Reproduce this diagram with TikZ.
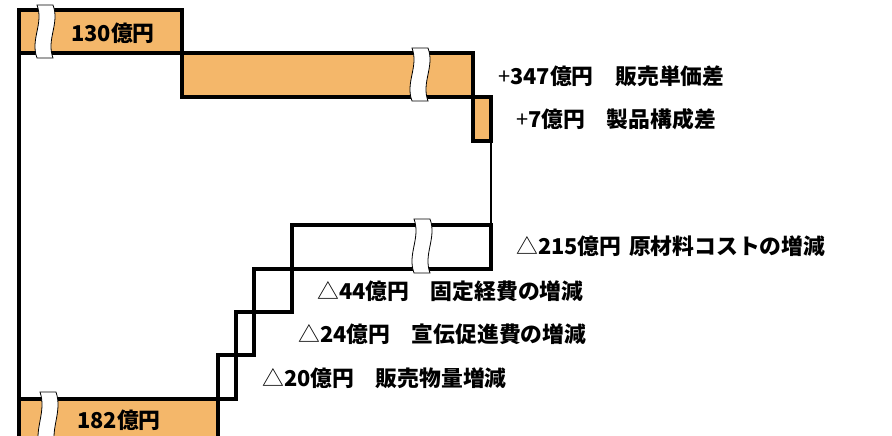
\documentclass[tikz,border=0pt]{standalone}
\usepackage{fontspec}
\setmainfont{Noto Sans CJK JP}
\usetikzlibrary{positioning}
\definecolor{barorange}{RGB}{244,183,106}

% wavy break mark: centre x, top y, bottom y
\newcommand{\breakmark}[3]{%
  \filldraw[fill=white, draw=black, line width=0.8pt]
    (#1-8,#2) .. controls (#1-1,#2+0.35*#3-0.35*#2) and (#1-15,#3-0.35*#3+0.35*#2) .. (#1-8,#3)
    -- (#1+8,#3) .. controls (#1+1,#3-0.35*#3+0.35*#2) and (#1+15,#2+0.35*#3-0.35*#2) .. (#1+8,#2) -- cycle;}

\begin{document}
\begin{tikzpicture}[x=1pt, y=-1pt,
  bar/.style={draw=black, line width=3.5pt, fill=barorange},
  drop/.style={draw=black, line width=3.5pt, fill=white},
  lbl/.style={anchor=west, inner sep=0pt, font=\fontsize{21.8}{26}\selectfont\bfseries}]
\useasboundingbox (0,0) rectangle (892,436);

% increases
\draw[bar] (19,10) rectangle (182,53);
\draw[bar] (182,53) rectangle (473,97);
\draw[bar] (473,97) rectangle (491,141);
\draw[line width=1.5pt] (491,141) -- (491,225);

% decreases
\draw[drop] (292,225) rectangle (491,269);
\draw[drop] (254,269) rectangle (292,312);
\draw[drop] (236,312) rectangle (254,355);
\draw[drop] (218,355) rectangle (236,399);

% result
\fill[barorange] (19,399) rectangle (218,445);
\draw[line width=3.5pt] (218,445) -- (218,399) -- (19,399);
\draw[line width=3.5pt] (19,10) -- (19,445);

\breakmark{45}{5}{58}
\breakmark{420}{48}{101}
\breakmark{422}{219}{273}
\breakmark{48}{392}{450}

\node[lbl] (start) at (71,33) {130億円};
\node[lbl] (final) at (77,420) {182億円};
\node[lbl] (price) at (498,76) {\textmd{+}347億円　販売単価差};
\node[lbl] (mix) at (516,119) {\textmd{+}7億円　製品構成差};
\node[lbl] (material) at (516,246) {\textmd{△}215億円\hspace{0.35em}原材料コストの増減};
\node[lbl] (fixed) at (317,291) {\textmd{△}44億円　固定経費の増減};
\node[lbl] (promo) at (298,334) {\textmd{△}24億円　宣伝促進費の増減};
\node[lbl] (volume) at (262,378) {\textmd{△}20億円　販売物量増減};
\end{tikzpicture}
\end{document}
